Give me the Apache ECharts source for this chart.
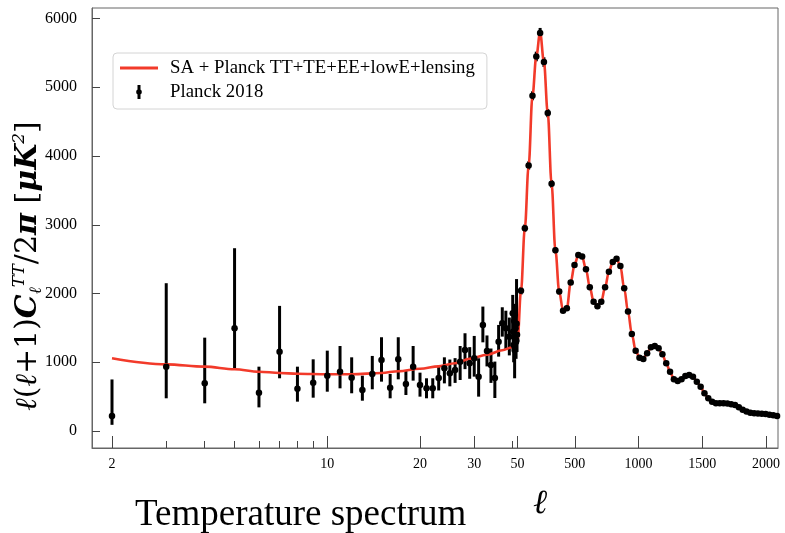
<!DOCTYPE html>
<html><head><meta charset="utf-8">
<script src="https://cdn.jsdelivr.net/npm/echarts@6/dist/echarts.min.js"></script>
<style>html,body{margin:0;padding:0;background:#fff}#c{width:785px;height:533px}</style>
</head><body><div id="c"></div>
<script>
// ---- data ----
const lowL  = [2,3,4,5,6,7,8,9,10,11,12,13,14,15,16,17,18,19,20,21,22,23,24,25,26,27,28,29,30,31,32,33,34,35,36,37,38,39,40,41,42,43,44,45,46,47,48,49];
const lowD  = [220,936,694,1495,558,1154,616,703,805,863,776,597,830,1033,631,1043,684,936,670,621,621,770,912,840,888,1009,1179,985,1058,791,1543,1165,960,770,1300,1567,1495,1373,1713,1445,1250,1600,1179,1380,1495,1300,1560,1400];
const lowLo = [90,476,403,912,344,767,427,485,572,621,549,441,607,718,476,752,524,733,500,476,476,590,693,650,700,742,900,760,791,500,1290,940,700,480,1082,1373,1180,1100,1470,1200,1000,1350,767,1150,1250,1050,1300,1150];
const lowHi = [750,2150,1358,2659,936,1820,936,1043,1169,1237,1072,805,1092,1364,830,1364,888,1237,849,767,767,950,1072,1040,1060,1237,1422,1220,1383,1058,1810,1390,1200,1010,1543,1800,1750,1650,1980,1700,1500,1850,1567,1620,1750,1550,2210,1650];

const binL = [47.5,77.5,107.5,137.5,167.5,197.5,227.5,257.5,287.5,317.5,347.5,377.5,407.5,437.5,467.5,497.5,527.5,557.5,587.5,617.5,647.5,677.5,707.5,737.5,767.5,797.5,827.5,857.5,887.5,917.5,947.5,977.5,1007.5,1037.5,1067.5,1097.5,1127.5,1157.5,1187.5,1217.5,1247.5,1277.5,1307.5,1337.5,1367.5,1397.5,1427.5,1457.5,1487.5,1517.5,1547.5,1577.5,1607.5,1637.5,1667.5,1697.5,1727.5,1757.5,1787.5,1817.5,1847.5,1877.5,1907.5,1937.5,1967.5,1997.5,2027.5,2057.5,2087.5];
const binD = [1320,2040,2950,3862,4876,5448,5788,5366,4624,3595,2630,2028,1751,1786,2159,2416,2562,2537,2354,2092,1882,1815,1882,2092,2315,2460,2505,2400,2077,1737,1412,1169,1067,1048,1131,1218,1237,1204,1117,985,863,752,728,752,801,815,791,718,645,548,476,427,403,403,405,400,390,378,345,310,285,266,258,256,252,247,238,228,218];
const binErr = [60,55,55,60,65,70,75,70,60,55,45,40,35,35,35,35,35,35,30,30,30,30,30,30,30,30,30,30,25,25,25,25,20,20,20,20,20,20,20,20,20,20,20,20,20,20,20,20,20,20,20,20,20,20,20,20,20,20,20,20,20,20,20,20,20,20,20,20,20];

const curveL = [2,3,4,5,6,7,8,10,12,15,17,20,23,26,29,33,37,40,45,50,77.5,107.5,137.5,167.5,197.5,227.5,257.5,287.5,317.5,347.5,377.5,407.5,437.5,467.5,497.5,527.5,557.5,587.5,617.5,647.5,677.5,707.5,737.5,767.5,797.5,827.5,857.5,887.5,917.5,947.5,977.5,1007.5,1037.5,1067.5,1097.5,1127.5,1157.5,1187.5,1217.5,1247.5,1277.5,1307.5,1337.5,1367.5,1397.5,1427.5,1457.5,1487.5,1517.5,1547.5,1577.5,1607.5,1637.5,1667.5,1697.5,1727.5,1757.5,1787.5,1817.5,1847.5,1877.5,1907.5,1937.5,1967.5,1997.5,2027.5,2057.5,2087.5];
const curveD = [1058,970,936,898,863,845,832,825,826,845,870,905,940,985,1050,1110,1175,1220,1265,1300,2040,2950,3862,4876,5448,5800,5366,4624,3595,2630,2028,1751,1786,2159,2416,2562,2537,2354,2092,1882,1815,1882,2092,2315,2460,2505,2400,2077,1737,1412,1169,1067,1048,1131,1218,1237,1204,1117,985,863,752,728,752,801,815,791,718,645,548,476,427,403,403,405,400,390,378,345,310,285,266,258,256,252,247,238,228,218];

const majorTicks = [2,10,20,30,50,500,1000,1500,2000];
const minorTicks = [3,4,5,6,7,8,9,40];
const yTicks = [0,1000,2000,3000,4000,5000,6000];

// ---- hybrid ell scale: log below 40, squeezed 40-50, linear above 50 ----
function t(l){
  if (l <= 40) return 20 + 308 * Math.log10(l / 2);
  if (l <= 50) return 420.717 + (l - 40) * 0.478;
  return 425.5 + (l - 50) * 0.1274;
}
const labelMap = {};
majorTicks.forEach(l => { labelMap[t(l).toFixed(2)] = String(l); });

const serif = '"Liberation Serif","Times New Roman",serif';
const mathSerif = '"DejaVu Serif","Liberation Serif",serif';
const RED = '#f23a2a';
const AX = '#666';

const barData = lowL.map((l,i)=>[t(l), lowLo[i], lowHi[i]])
  .concat(binL.map((l,i)=>[t(l), binD[i]-binErr[i], binD[i]+binErr[i]]));
const dotData = lowL.map((l,i)=>[t(l), lowD[i]])
  .concat(binL.map((l,i)=>[t(l), binD[i]]));
const curveData = curveL.map((l,i)=>[t(l), curveD[i]]);

const chart = echarts.init(document.getElementById('c'), null, {renderer:'canvas'});
chart.setOption({
  animation:false,
  backgroundColor:'#fff',
  title:[
    {text:'Temperature spectrum', left:135, top:497, padding:0,
     textStyle:{fontFamily:serif, fontSize:37, fontWeight:'normal', color:'#000'}},
    {text:'ℓ', left:533, top:487, padding:0,
     textStyle:{fontFamily:serif, fontSize:34, fontStyle:'italic', fontWeight:'normal', color:'#000'}}
  ],
  legend:{
    left:113, top:53, orient:'vertical', selectedMode:false,
    backgroundColor:'#fff', borderColor:'#d4d4d4', borderWidth:1, borderRadius:4,
    padding:[5,12,7,7], itemWidth:38, itemHeight:14, itemGap:4,
    textStyle:{fontFamily:serif, fontSize:18.8, color:'#000', lineHeight:20, padding:[0,0,0,7]},
    data:[
      {name:'SA + Planck TT+TE+EE+lowE+lensing', icon:'path://M0,0L38,0L38,3L0,3Z', itemStyle:{color:RED}},
      {name:'Planck 2018', icon:'path://M-1.5,-7L1.5,-7L1.5,7L-1.5,7Z M-2.8,0A2.8,2.8 0 1,1 2.8,0A2.8,2.8 0 1,1 -2.8,0Z', itemStyle:{color:'#000'}}
    ]
  },
  grid:{left:92, right:7, top:8, bottom:85, show:true, borderColor:AX, borderWidth:1,
        containLabel:false, outerBoundsMode:'none'},
  xAxis:[
    {type:'value', min:0, max:686, position:'bottom',
     axisLine:{show:true, onZero:false, lineStyle:{color:AX, width:1}},
     axisTick:{show:true, inside:true, length:12, customValues:majorTicks.map(t), lineStyle:{color:'#444', width:1}},
     axisLabel:{show:true, customValues:majorTicks.map(t), margin:9, fontFamily:serif, fontSize:14, color:'#000',
       formatter:v=>labelMap[v.toFixed(2)] || ''},
     splitLine:{show:false}},
    {type:'value', min:0, max:686, position:'bottom', offset:0,
     axisLine:{show:false, onZero:false},
     axisTick:{show:true, inside:true, length:7, customValues:minorTicks.map(t), lineStyle:{color:'#444', width:1}},
     axisLabel:{show:false},
     splitLine:{show:false}}
  ],
  yAxis:{
    type:'value', min:-247, max:6153, position:'left',
    axisLine:{show:true, onZero:false, lineStyle:{color:AX, width:1}},
    axisTick:{show:true, inside:true, length:8, customValues:yTicks, lineStyle:{color:'#444', width:1}},
    axisLabel:{customValues:yTicks, margin:15, fontFamily:serif, fontSize:16, color:'#000',
      formatter:v=>String(v)},
    splitLine:{show:false},
    name:'{s|ℓ}{n|(}{s|ℓ}{n|+1)}{c|C}{sub|ℓ}{sup|TT}{n|/2}{c|π}{n| [}{c|μK}{sup|2}{n|]}',
    nameLocation:'middle', nameRotate:90, nameGap:46, nameMoveOverlap:false,
    nameTextStyle:{
      padding:[0,76,0,0],
      rich:{
        n:{fontFamily:mathSerif, fontSize:30, color:'#000'},
        s:{fontFamily:mathSerif, fontSize:30, fontStyle:'italic', color:'#000'},
        c:{fontFamily:mathSerif, fontSize:30, fontStyle:'italic', fontWeight:'bold', color:'#000'},
        sup:{fontFamily:mathSerif, fontSize:17, fontStyle:'italic', color:'#000', padding:[0,0,18,0]},
        sub:{fontFamily:mathSerif, fontSize:17, fontStyle:'italic', color:'#000', padding:[16,0,0,0]}
      }
    }
  },
  series:[
    {name:'Planck 2018', type:'custom', z:1, data:barData,
     encode:{x:0, y:[1,2]}, itemStyle:{color:'#000'},
     renderItem:(params, api)=>{
       const x = api.value(0);
       const a = api.coord([x, api.value(1)]);
       const b = api.coord([x, api.value(2)]);
       return {type:'line', shape:{x1:a[0], y1:a[1], x2:b[0], y2:b[1]},
               style:{stroke:'#000', lineWidth:3}};
     }},
    {name:'SA + Planck TT+TE+EE+lowE+lensing', type:'line', z:2, data:curveData,
     showSymbol:false, smooth:0.35, smoothMonotone:'x',
     lineStyle:{color:RED, width:2.6}, itemStyle:{color:RED}},
    {name:'Planck 2018', type:'scatter', z:5, data:dotData,
     symbol:'circle', symbolSize:6.5, itemStyle:{color:'#000', opacity:1}}
  ]
});
</script></body></html>
